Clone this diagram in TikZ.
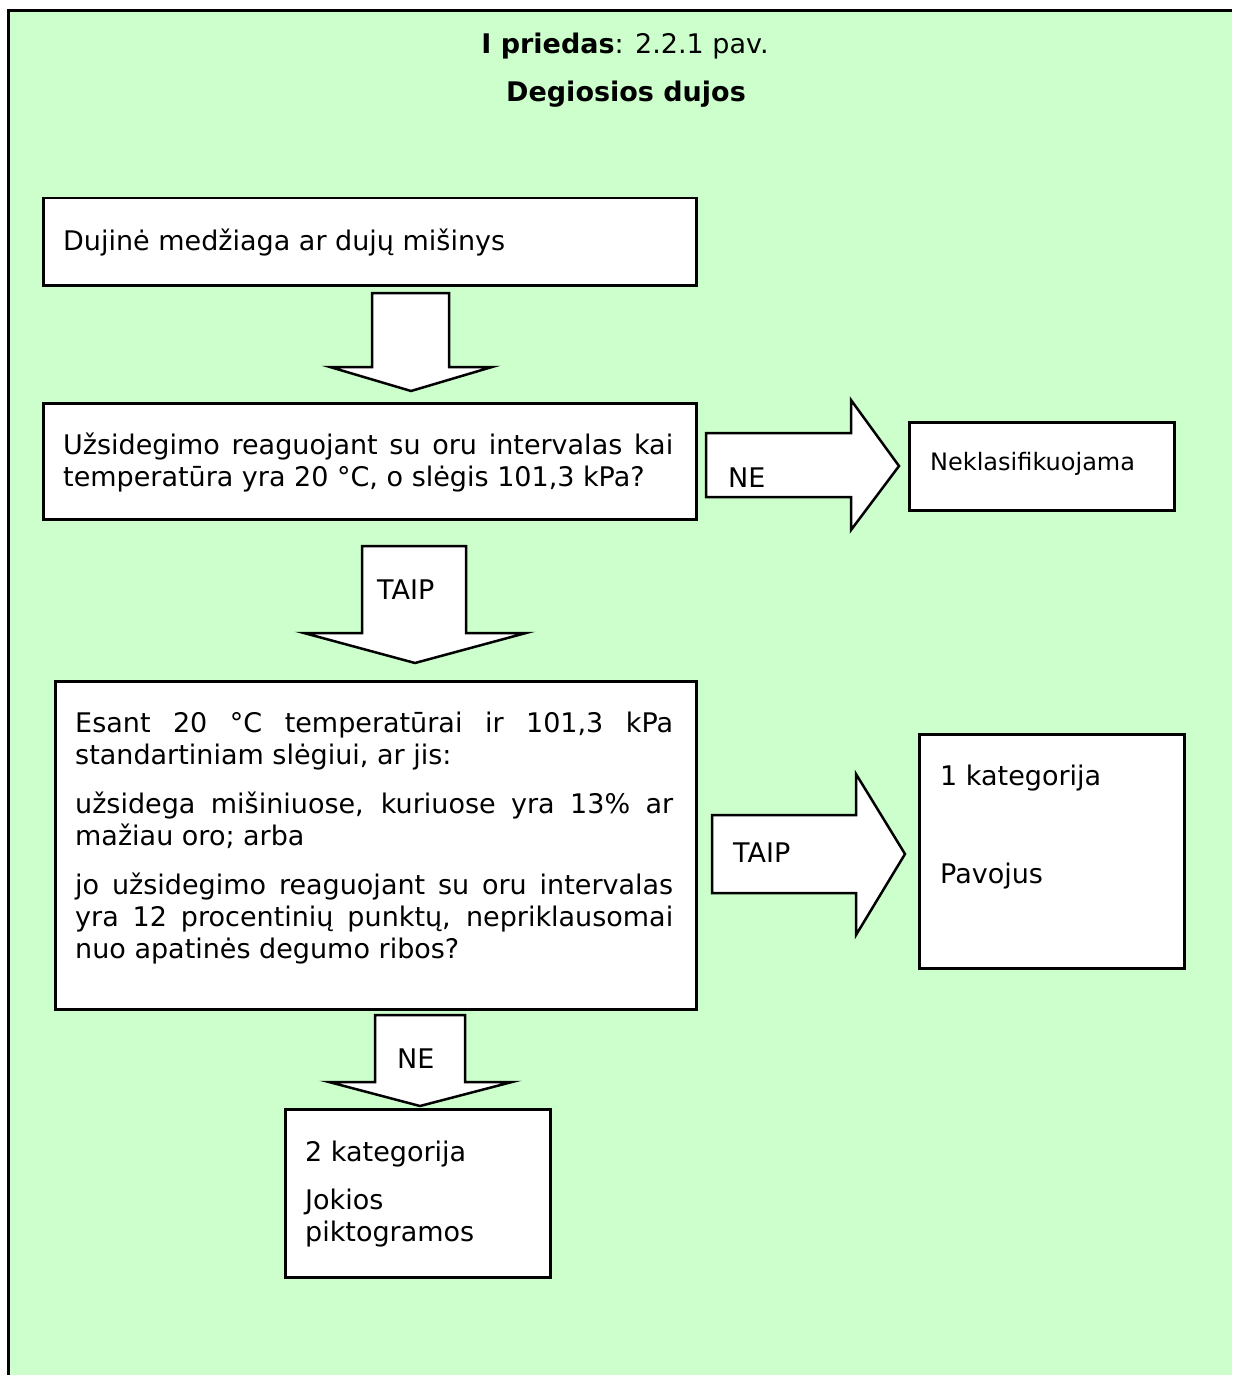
\documentclass[tikz,border=0pt]{standalone}
\usepackage{fontspec}
\setmainfont{DejaVu Sans}
\definecolor{panelgreen}{HTML}{CCFFCC}
\newcommand{\mainsize}{\fontsize{27}{32}\selectfont}
\begin{document}
\begin{tikzpicture}[x=1pt,y=-1pt,
  stepbox/.style={draw, fill=white, line width=2.5pt, inner sep=0pt, anchor=north west},
  label/.style={anchor=base west, inner sep=0pt, font=\mainsize},
  blockarrow/.style={draw, fill=white, line width=2.5pt, line join=miter}]
\useasboundingbox (0,0) rectangle (1232,1375);
% panel background with its left and top rule
\fill[panelgreen] (8.5,11) rectangle (1232,1375);
\draw[line width=3pt] (8.5,1375) -- (8.5,11) -- (1232,11);

% heading
\node[anchor=base, inner sep=0pt, font=\mainsize] (title) at (625,54) {\textbf{I priedas}: 2.2.1 pav.};
\node[anchor=base, inner sep=0pt, font=\mainsize] (subtitle) at (626,102) {\textbf{Degiosios dujos}};

% boxes
\node[stepbox, minimum width=653pt, minimum height=87pt] (b1) at (42,197) {};
\node[stepbox, minimum width=653pt, minimum height=116pt] (b2) at (42,402) {};
\node[stepbox, minimum width=265pt, minimum height=88pt] (nek) at (908,421) {};
\node[stepbox, minimum width=641pt, minimum height=328pt] (b3) at (54,680) {};
\node[stepbox, minimum width=265pt, minimum height=234pt] (cat1) at (918,733) {};
\node[stepbox, minimum width=265pt, minimum height=168pt] (cat2) at (284,1108) {};

% box texts
\node[label] (t1) at (63,250) {Dujinė medžiaga ar dujų mišinys};
\node[label] (t2) at (63,454) {\parbox[t]{610pt}{\mainsize Užsidegimo reaguojant su oru intervalas kai\linebreak temperatūra yra 20 °C, o slėgis 101,3 kPa?}};
\node[anchor=base west, inner sep=0pt, font=\fontsize{24}{29}\selectfont] (tnek) at (930,470) {Neklasifikuojama};
\node[label] (t3) at (75,732) {\parbox[t]{598pt}{\mainsize\setlength{\parskip}{17pt}%
Esant 20 °C temperatūrai ir 101,3 kPa\linebreak standartiniam slėgiui, ar jis:\par
užsidega mišiniuose, kuriuose yra 13\% ar\linebreak mažiau oro; arba\par
jo užsidegimo reaguojant su oru intervalas\linebreak yra 12 procentinių punktų, nepriklausomai\linebreak nuo apatinės degumo ribos?}};
\node[label] (tc1a) at (940,785) {1 kategorija};
\node[label] (tc1b) at (940,883) {Pavojus};
\node[label] (tc2a) at (305,1161) {2 kategorija};
\node[label] (tc2b) at (305,1209) {Jokios};
\node[label] (tc2c) at (305,1241) {piktogramos};

% block arrows between the boxes
\draw[blockarrow] (372,293) -- (449,293) -- (449,367) -- (492,367) -- (411,391) -- (330,367) -- (372,367) -- cycle;
\draw[blockarrow] (362,546) -- (466,546) -- (466,633) -- (526,633) -- (415,663) -- (304,633) -- (362,633) -- cycle;
\draw[blockarrow] (706,433) -- (851,433) -- (851,400) -- (899,466) -- (851,530) -- (851,497) -- (706,497) -- cycle;
\draw[blockarrow] (712,815) -- (856,815) -- (856,774) -- (905,854) -- (856,935) -- (856,893) -- (712,893) -- cycle;
\draw[blockarrow] (375,1015) -- (465,1015) -- (465,1082) -- (512,1082) -- (420,1106) -- (329,1082) -- (375,1082) -- cycle;

% arrow labels
\node[label] (lne1) at (728,487) {NE};
\node[label] (ltaip1) at (377,599) {TAIP};
\node[label] (ltaip2) at (733,862) {TAIP};
\node[label] (lne2) at (397,1068) {NE};
\end{tikzpicture}
\end{document}
